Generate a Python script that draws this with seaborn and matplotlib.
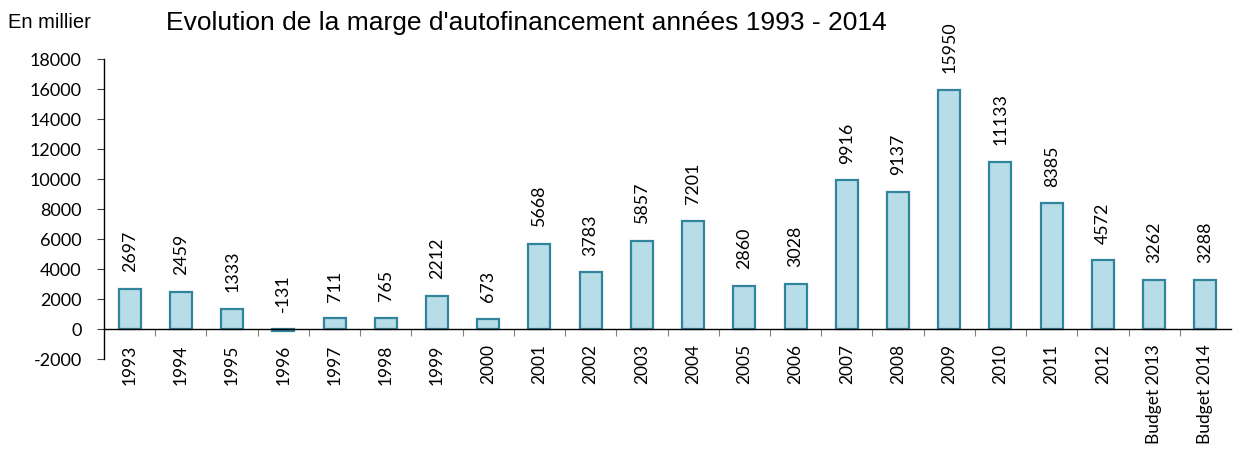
import matplotlib
matplotlib.use("Agg")
import matplotlib.pyplot as plt
import seaborn as sns
import pandas as pd
import numpy as np

categories = ["1993", "1994", "1995", "1996", "1997", "1998", "1999", "2000", "2001", "2002",
              "2003", "2004", "2005", "2006", "2007", "2008", "2009", "2010", "2011", "2012",
              "Budget 2013", "Budget 2014"]
values = [2697, 2459, 1333, -131, 711, 765, 2212, 673, 5668, 3783,
          5857, 7201, 2860, 3028, 9916, 9137, 15950, 11133, 8385, 4572,
          3262, 3288]
yticks = list(range(-2000, 18001, 2000))

sns.set_style("white")
plt.rcParams.update({"text.color": "black", "xtick.color": "black", "ytick.color": "black",
                     "axes.labelcolor": "black"})
df = pd.DataFrame({"cat": categories, "val": values})

fig = plt.figure(figsize=(12.37, 4.5), dpi=100)
ax = fig.add_axes([104/1237, 1-359/450, (1231-104)/1237, 300/450])

sns.barplot(data=df, x="cat", y="val", ax=ax, color="#b7dde8", width=0.43,
            edgecolor="#31849b", linewidth=1.6, saturation=1)

ax.set_ylim(-2000, 18000)
ax.set_xlim(-0.5, len(categories) - 0.5)
ax.set_yticks(yticks)
ax.set_yticklabels([str(t) for t in yticks], fontsize=13, family="Lato")
ax.set_xlabel("")
ax.set_ylabel("")

for s in ["top", "right"]:
    ax.spines[s].set_visible(False)
ax.spines["bottom"].set_position(("data", 0))
ax.spines["bottom"].set_color("black")
ax.spines["left"].set_color("black")
ax.spines["left"].set_linewidth(1.0)
ax.spines["bottom"].set_linewidth(1.0)

ax.tick_params(axis="y", which="major", left=True, length=5, width=0.8, color="#404040", pad=11)
ax.set_xticks(range(len(categories)))
ax.set_xticklabels(categories, rotation=90, fontsize=12.5, family="Lato", va="top")
ax.tick_params(axis="x", which="major", length=0, pad=11)
ax.set_xticks(np.arange(0.5, len(categories) - 0.5, 1.0), minor=True)
ax.tick_params(axis="x", which="minor", bottom=True, length=5, width=0.8, color="#808080")

for i, v in enumerate(values):
    ax.annotate(str(v), xy=(i, max(v, 0)), xytext=(0, 12), textcoords="offset points",
                rotation=90, ha="center", va="bottom", fontsize=12.8, family="Lato")

fig.text(166/1237, 1-23/450, "Evolution de la marge d'autofinancement années 1993 - 2014",
         fontsize=19, family="Liberation Sans", va="center", ha="left")
fig.text(8/1237, 1-23/450, "En millier", fontsize=14.5, family="Liberation Sans",
         va="center", ha="left")

fig.savefig("out.png", dpi=100)
